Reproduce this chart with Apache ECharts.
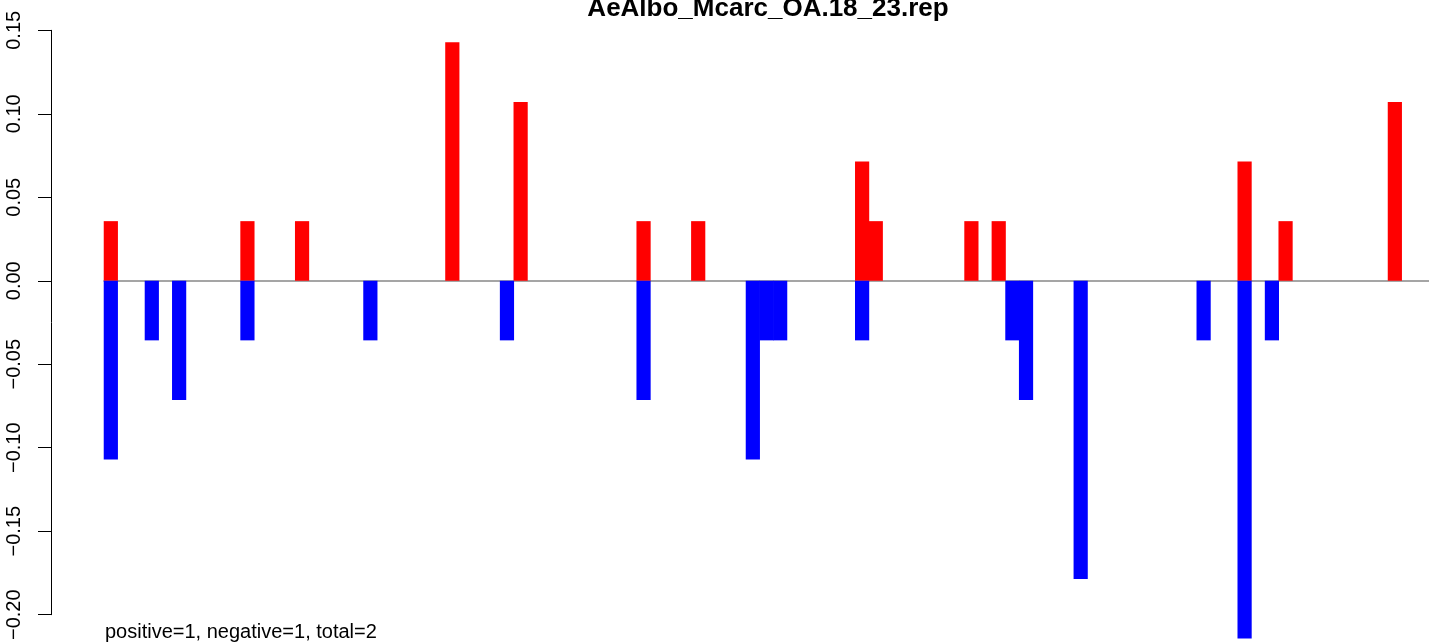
<!DOCTYPE html>
<html>
<head>
<meta charset="utf-8">
<script src="https://cdn.jsdelivr.net/npm/echarts@6/dist/echarts.min.js"></script>
<style>
html,body{margin:0;padding:0;background:#fff;}
#chart{width:1429px;height:643px;}
</style>
</head>
<body>
<div id="chart"></div>
<script>
const titleText = "AeAlbo_Mcarc_OA.18_23.rep";
const noteText = "positive=1, negative=1, total=2";
const yTicks = [-0.20, -0.15, -0.10, -0.05, 0.00, 0.05, 0.10, 0.15];

const positive = [
  0.0357,0,0,0,0,0,0,0,0,0,
  0.0357,0,0,0,0.0357,0,0,0,0,0,
  0,0,0,0,0,0.1429,0,0,0,0,
  0.1071,0,0,0,0,0,0,0,0,0.0357,
  0,0,0,0.0357,0,0,0,0,0,0,
  0,0,0,0,0,0.0714,0.0357,0,0,0,
  0,0,0,0.0357,0,0.0357,0,0,0,0,
  0,0,0,0,0,0,0,0,0,0,
  0,0,0,0.0714,0,0,0.0357,0,0,0,
  0,0,0,0,0.1071,0,0
];
const negative = [
  -0.1071,0,0,-0.0357,0,-0.0714,0,0,0,0,
  -0.0357,0,0,0,0,0,0,0,0,-0.0357,
  0,0,0,0,0,0,0,0,0,-0.0357,
  0,0,0,0,0,0,0,0,0,-0.0714,
  0,0,0,0,0,0,0,-0.1071,-0.0357,-0.0357,
  0,0,0,0,0,-0.0357,0,0,0,0,
  0,0,0,0,0,0,-0.0357,-0.0714,0,0,
  0,-0.1786,0,0,0,0,0,0,0,0,
  -0.0357,0,0,-0.2143,0,-0.0357,0,0,0,0,
  0,0,0,0,0,0,0
];
const categories = positive.map((_, i) => String(i + 1));

const FONT = "'Liberation Sans', Arial, Helvetica, sans-serif";
const chart = echarts.init(document.getElementById('chart'), null, {renderer: 'canvas'});

const fmt = v => {
  if (Math.abs(v) < 1e-9) return "0.00";
  const s = Math.abs(v).toFixed(2);
  return (v < 0 ? "\u2212" : "") + s;
};

chart.setOption({
  backgroundColor: '#ffffff',
  animation: false,
  grid: {left: 104, top: 30.3, width: 1328, height: 584.4, containLabel: false},
  xAxis: {
    type: 'category',
    data: categories,
    boundaryGap: true,
    axisLine: {show: true, onZero: true, lineStyle: {color: '#888888', width: 1.5}},
    axisTick: {show: false},
    axisLabel: {show: false},
    splitLine: {show: false}
  },
  yAxis: {
    type: 'value',
    min: yTicks[0],
    max: yTicks[yTicks.length - 1],
    interval: 0.05,
    position: 'left',
    offset: 53,
    axisLine: {show: true, lineStyle: {color: '#000', width: 1}},
    axisTick: {show: true, inside: false, length: 13, lineStyle: {color: '#000', width: 1}},
    axisLabel: {
      show: true, rotate: 90, margin: 27, fontSize: 20, color: '#000',
      fontFamily: FONT, formatter: fmt
    },
    splitLine: {show: false}
  },
  series: [
    {
      name: 'positive', type: 'bar', data: positive,
      barWidth: 14.2, barGap: '-100%', clip: false,
      itemStyle: {color: '#ff0000'}
    },
    {
      name: 'negative', type: 'bar', data: negative,
      barWidth: 14.2, barGap: '-100%', clip: false,
      itemStyle: {color: '#0000ff'}
    }
  ],
  graphic: [
    {
      type: 'text', x: 768, y: 9,
      style: {text: titleText, font: "bold 26px " + FONT, fill: '#000',
              textAlign: 'center', textVerticalAlign: 'middle'}
    },
    {
      type: 'text', x: 105, y: 632,
      style: {text: noteText, font: "20px " + FONT, fill: '#000',
              textAlign: 'left', textVerticalAlign: 'middle'}
    }
  ]
});
</script>
</body>
</html>
